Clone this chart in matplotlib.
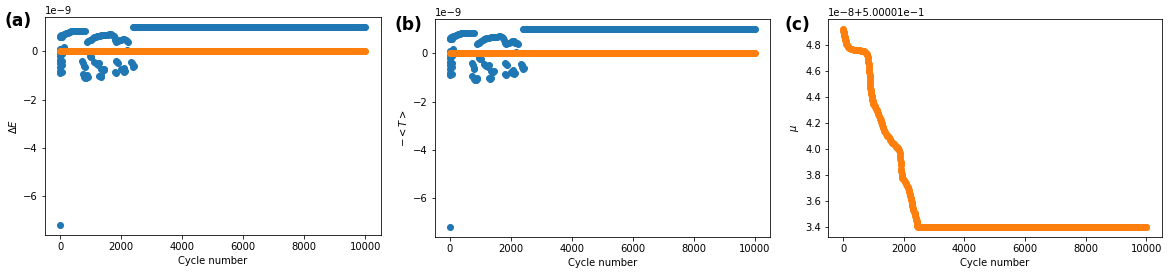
import numpy as np
import matplotlib
matplotlib.use("Agg")
import matplotlib.pyplot as plt

# ---------------- data ----------------
# Panel (a)/(b): blue series (values in units of 1e-9)
cluster_x = [0,
             # early vertical strip
             0, 0, 0, 0, 0, 0, 0, 0, 60, 60, 60, 60, 120,
             # first upper segment
             0, 30, 60, 0, 40, 80, 120, 160, 200, 240, 280, 320, 360, 400, 440,
             480, 520, 560, 600, 640, 680, 720, 760, 800,
             # lower blobs
             720, 750, 780, 800, 740, 780, 820, 860, 900, 880,
             970, 1000, 1010,
             1120, 1160, 1200, 1240, 1280,
             1340, 1380, 1420, 1440,
             1280, 1320, 1340,
             # second upper segment
             880, 920, 960, 1000, 1040, 1080, 1120, 1160, 1200, 1250, 1300, 1350,
             1400, 1450, 1500, 1550, 1600, 1650, 1700, 1750, 1780, 1800, 1830,
             1900, 1950, 2000, 2050, 2100, 2150, 2200, 2230,
             # right lower blobs
             1820, 1850, 1880, 1800, 1840, 2000, 2050, 2100, 2130, 2080,
             2330, 2370, 2400, 2430, 2360, 2180, 2220, 2250]
cluster_y = [-7.2,
             0.1, -0.05, -0.2, -0.35, -0.5, -0.65, -0.8, -0.9, -0.1, -0.4, -0.55,
             -0.85, 0.18,
             0.58, 0.58, 0.6, 0.64, 0.66, 0.68, 0.7, 0.72, 0.75, 0.78, 0.8, 0.82,
             0.83, 0.84, 0.84, 0.85, 0.85, 0.85, 0.85, 0.86, 0.86, 0.86, 0.86, 0.86,
             -0.4, -0.5, -0.6, -0.65, -0.95, -1.05, -1.1, -1.12, -1.08, -1.0,
             -0.2, -0.25, -0.22,
             -0.45, -0.5, -0.52, -0.55, -0.5,
             -0.72, -0.75, -0.78, -0.72,
             -1.02, -1.08, -1.0,
             0.40, 0.42, 0.45, 0.48, 0.52, 0.55, 0.58, 0.6, 0.62, 0.64, 0.65, 0.66,
             0.67, 0.68, 0.68, 0.69, 0.70, 0.70, 0.68, 0.65, 0.55, 0.45, 0.38,
             0.42, 0.45, 0.48, 0.5, 0.5, 0.45, 0.42, 0.4,
             -0.4, -0.45, -0.5, -0.85, -0.9, -0.75, -0.8, -0.85, -0.8, -0.7,
             -0.45, -0.55, -0.65, -0.6, -0.5, 0.05, 0.0, 0.02]
flat_x = list(range(2400, 10001, 25))
flat_y = [1.0] * len(flat_x)

# orange series in (a)/(b)
zero_x = list(range(0, 10001, 25))
zero_y = [0.0] * len(zero_x)

# Panel (c): mu, in units of 1e-8 above 0.500001
mu_x = [0, 10, 20, 30, 40, 50, 60, 70, 80, 95, 110, 130, 150, 175, 200, 250,
        300, 350, 400, 450, 500, 550, 600, 650, 700, 730, 760, 780, 800,
        810, 820, 830, 840, 848, 855, 862, 870, 875, 880, 885, 890, 897, 905,
        915, 925, 937, 950, 962, 975, 987, 1000, 1020, 1040, 1060, 1080, 1100,
        1120, 1140, 1160, 1180, 1200, 1220, 1240, 1260, 1280, 1295, 1310, 1325,
        1340, 1360, 1380, 1400, 1430, 1460, 1500, 1530, 1560, 1590, 1620, 1650,
        1680, 1710, 1740, 1770, 1800, 1825, 1850, 1865, 1880, 1890, 1900, 1908,
        1915, 1923, 1930, 1940, 1950, 1975, 2000, 2030, 2060, 2085, 2110, 2130,
        2150, 2165, 2180, 2195, 2210, 2225, 2240, 2255, 2270, 2285, 2300, 2320,
        2340, 2355, 2370, 2385, 2400, 2410, 2420, 2430, 2440, 2450, 2460] + \
       list(range(2475, 10001, 25))
mu_y = [4.92, 4.91, 4.90, 4.885, 4.87, 4.86, 4.85, 4.84, 4.83, 4.82, 4.81, 4.80,
        4.79, 4.78, 4.775, 4.77, 4.765, 4.762, 4.76, 4.76, 4.76, 4.758, 4.755,
        4.752, 4.75, 4.745, 4.74, 4.73, 4.72, 4.705, 4.69, 4.67, 4.65, 4.63,
        4.61, 4.59, 4.57, 4.55, 4.53, 4.51, 4.49, 4.47, 4.45, 4.435, 4.42,
        4.405, 4.39, 4.38, 4.37, 4.36, 4.35, 4.34, 4.33, 4.32, 4.31, 4.30,
        4.29, 4.28, 4.27, 4.255, 4.24, 4.23, 4.22, 4.21, 4.20, 4.185, 4.17,
        4.16, 4.15, 4.14, 4.13, 4.12, 4.11, 4.10, 4.09, 4.08, 4.07, 4.06, 4.05,
        4.045, 4.04, 4.03, 4.02, 4.015, 4.01, 4.00, 3.99, 3.97, 3.95, 3.925,
        3.90, 3.875, 3.85, 3.83, 3.81, 3.795, 3.78, 3.77, 3.76, 3.75, 3.74,
        3.73, 3.72, 3.71, 3.70, 3.685, 3.67, 3.655, 3.64, 3.625, 3.61, 3.595,
        3.58, 3.565, 3.55, 3.535, 3.52, 3.51, 3.50, 3.485, 3.47, 3.46, 3.45,
        3.435, 3.42, 3.41, 3.40] + [3.40] * len(range(2475, 10001, 25))

# ---------------- figure ----------------
W, H = 1172, 273
fig = plt.figure(figsize=(W / 72, H / 72), dpi=72)


def add_axes(l, t, r, b):
    return fig.add_axes([l / W, 1 - b / H, (r - l) / W, (b - t) / H])


ax_a = add_axes(45, 17.3, 380.5, 235)
ax_b = add_axes(434.5, 19.3, 770, 237.3)
ax_c = add_axes(828, 19.3, 1161.5, 237.3)

blue_x = cluster_x + flat_x
blue_y = np.array(cluster_y + flat_y) * 1e-9

for ax, lab in [(ax_a, r'$\Delta E$'), (ax_b, r'$-<T>$')]:
    ax.scatter(blue_x, blue_y, color='C0')
    ax.scatter(zero_x, np.array(zero_y) * 1e-9, color='C1')
    ax.set_xlabel('Cycle number')
    ax.set_ylabel(lab)

mu_vals = 0.500001 + np.array(mu_y) * 1e-8
ax_c.scatter(mu_x, mu_vals, color='C1')
ax_c.set_xlabel('Cycle number')
ax_c.set_ylabel(r'$\mu$')

for x, y, t in [(5, 21.5, '(a)'), (395, 25, '(b)'), (784, 25, '(c)')]:
    fig.text(x / W, 1 - y / H, t, fontsize=17, fontweight='bold',
             ha='left', va='center')

fig.savefig('out.png', dpi=72)
